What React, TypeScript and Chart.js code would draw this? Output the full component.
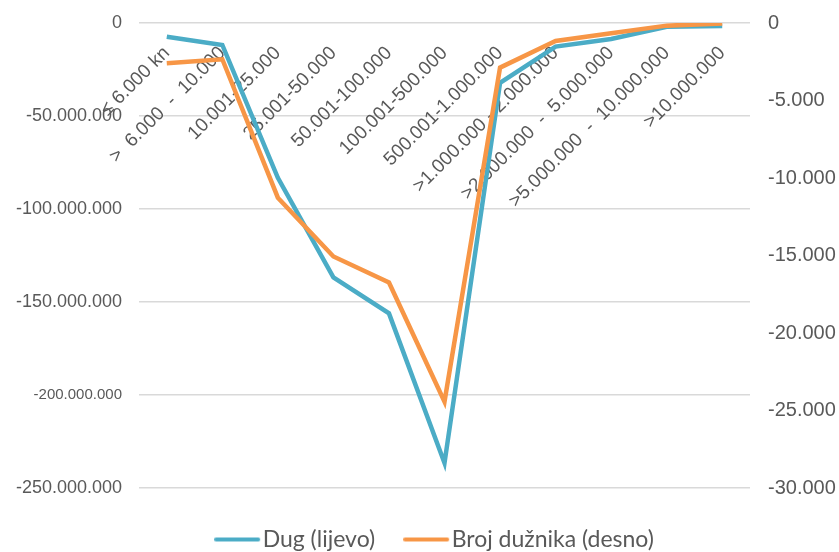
import React, { useEffect, useRef } from 'react';
import { Chart, registerables } from 'chart.js';

Chart.register(...registerables);

const categories = [
  '≤ 6.000 kn',
  '>  6.000  -  10.000',
  '10.001-25.000',
  '25.001-50.000',
  '50.001-100.000',
  '100.001-500.000',
  '500.001-1.000.000',
  '>1.000.000 - 2.000.000',
  '>2.000.000  -  5.000.000',
  '>5.000.000  -  10.000.000',
  '>10.000.000',
];

const dugValues = [
  -7350000, -11800000, -83200000, -136800000, -156100000, -236600000,
  -32200000, -12700000, -8600000, -2000000, -1600000,
];

const brojValues = [
  -2590, -2340, -11270, -15060, -16740, -24430, -2880, -1160, -660, -170, -30,
];

const seriesNames = ['Dug (lijevo)', 'Broj dužnika (desno)'];
const seriesColors = ['#4BACC6', '#F79646'];

const leftMin = -250000000;
const leftMax = 0;
const leftStep = 50000000;
const rightMin = -30000;
const rightMax = 0;
const rightStep = 5000;

const TEXT = '#595959';
const GRID = '#D9D9D9';
const SANS = '"Liberation Sans", Arial, sans-serif';
const LEGEND_FONT = 'Lato, "Noto Sans", sans-serif';

const fmt = (v: number) =>
  (v < 0 ? '-' : '') +
  Math.abs(Math.round(v))
    .toString()
    .replace(/\B(?=(\d{3})+(?!\d))/g, '.');

function makeSwatch(color: string) {
  const c = document.createElement('canvas');
  c.width = 49;
  c.height = 6;
  const g = c.getContext('2d')!;
  g.strokeStyle = color;
  g.lineWidth = 4;
  g.lineCap = 'round';
  g.beginPath();
  g.moveTo(2, 3);
  g.lineTo(44, 3);
  g.stroke();
  return c;
}

export default function App() {
  const ref = useRef<HTMLCanvasElement | null>(null);

  useEffect(() => {
    if (!ref.current) return;
    const swatches = seriesColors.map(makeSwatch);
    const chart = new Chart(ref.current, {
      type: 'line',
      data: {
        labels: categories,
        datasets: [
          {
            label: seriesNames[0],
            data: dugValues,
            borderColor: seriesColors[0],
            backgroundColor: seriesColors[0],
            borderWidth: 4.5,
            pointRadius: 0,
            tension: 0,
            yAxisID: 'y',
            order: 1,
          },
          {
            label: seriesNames[1],
            data: brojValues,
            borderColor: seriesColors[1],
            backgroundColor: seriesColors[1],
            borderWidth: 4.5,
            pointRadius: 0,
            tension: 0,
            yAxisID: 'y1',
            order: 0,
          },
        ],
      },
      options: {
        responsive: false,
        animation: false,
        layout: { padding: { left: 0, right: -41, top: 23, bottom: -9 } },
        plugins: {
          tooltip: { enabled: false },
          legend: {
            position: 'bottom',
            labels: {
              usePointStyle: true,
              pointStyleWidth: 25,
              padding: 40,
              color: TEXT,
              font: { family: LEGEND_FONT, size: 23 },
              sort: (a: any, b: any) => a.datasetIndex - b.datasetIndex,
              generateLabels: (ch: any) =>
                (Chart.defaults.plugins.legend.labels as any)
                  .generateLabels(ch)
                  .map((item: any) => ({
                    ...item,
                    pointStyle: swatches[item.datasetIndex],
                  })),
            },
          },
        },
        scales: {
          x: {
            type: 'category',
            position: { y: 0 } as any,
            offset: true,
            grid: { display: false, drawTicks: false },
            border: { display: false },
            ticks: {
              autoSkip: false,
              minRotation: 45,
              maxRotation: 45,
              padding: 19,
              color: TEXT,
              font: { family: SANS, size: 19 },
            },
          },
          y: {
            type: 'linear',
            position: 'left',
            min: leftMin,
            max: leftMax,
            afterFit: (s: any) => {
              s.width = 139;
            },
            grid: {
              color: GRID,
              lineWidth: 1.5,
              drawTicks: true,
              tickLength: 17,
              tickColor: 'rgba(0,0,0,0)',
            },
            border: { display: false },
            ticks: {
              stepSize: leftStep,
              padding: 0,
              color: TEXT,
              font: (ctx: any) => ({
                family: SANS,
                size: ctx.tick && ctx.tick.value === -200000000 ? 15 : 18,
              }),
              callback: (v: any) => fmt(Number(v)),
            },
          },
          y1: {
            type: 'linear',
            position: 'right',
            min: rightMin,
            max: rightMax,
            afterFit: (s: any) => {
              s.width = 130;
            },
            grid: { display: false, drawTicks: true, tickLength: 18 },
            border: { display: false },
            ticks: {
              stepSize: rightStep,
              padding: 0,
              color: TEXT,
              font: { family: SANS, size: 20 },
              callback: (v: any) => fmt(Number(v)),
            },
          },
        },
      },
    });
    return () => chart.destroy();
  }, []);

  return (
    <div style={{ position: 'absolute', left: 0, top: 0, width: 839, height: 552, background: '#fff' }}>
      <canvas ref={ref} width={839} height={552} style={{ display: 'block' }} />
    </div>
  );
}
